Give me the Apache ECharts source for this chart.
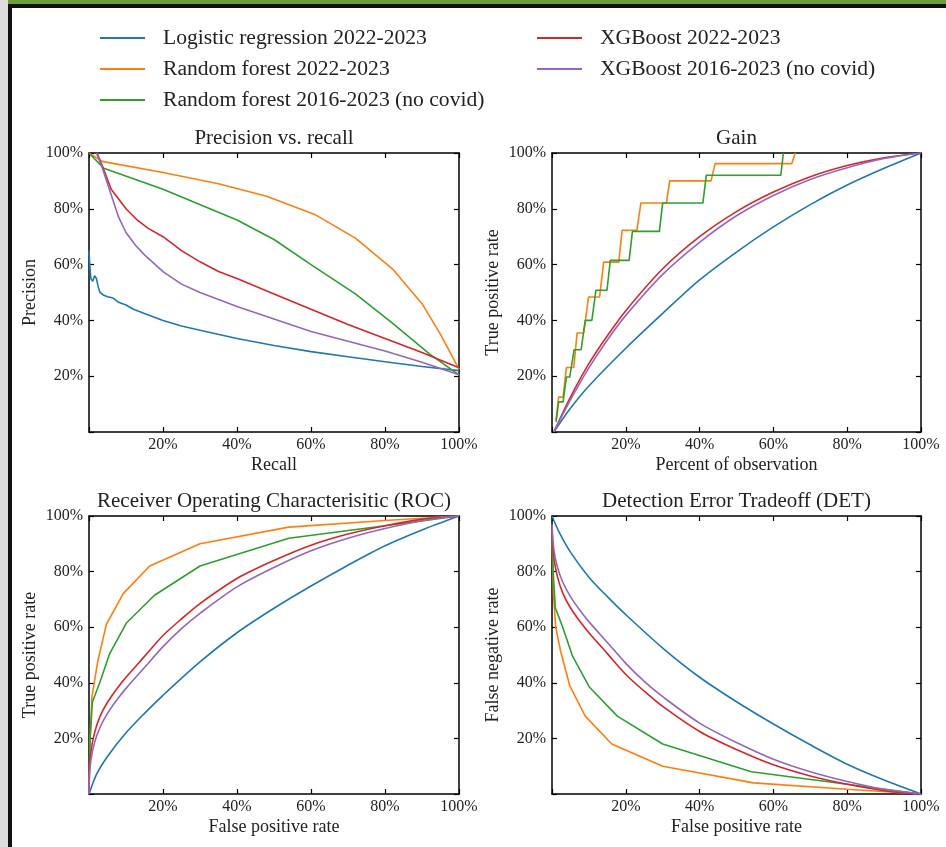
<!DOCTYPE html>
<html>
<head>
<meta charset="utf-8">
<script src="https://cdn.jsdelivr.net/npm/echarts@6/dist/echarts.min.js"></script>
<style>
html,body{margin:0;padding:0;background:#fff;}
#chart{width:946px;height:847px;}
</style>
</head>
<body>
<div id="chart"></div>
<script>
// ---------- names ----------
const seriesNames = [
  'Logistic regression 2022-2023',
  'Random forest 2022-2023',
  'Random forest 2016-2023 (no covid)',
  'XGBoost 2022-2023',
  'XGBoost 2016-2023 (no covid)'
];
const seriesColors = ['#1f77b4', '#ff7f0e', '#2ca02c', '#d62728', '#9467bd'];
const panelTitles = ['Precision vs. recall', 'Gain', 'Receiver Operating Characterisitic (ROC)', 'Detection Error Tradeoff (DET)'];
const xAxisNames = ['Recall', 'Percent of observation', 'False positive rate', 'False positive rate'];
const yAxisNames = ['Precision', 'True positive rate', 'True positive rate', 'False negative rate'];
const tickValues = [0, 20, 40, 60, 80, 100];

// ---------- Precision vs recall ([recall %, precision %]) ----------
const prLogReg = [[0,65],[0.2,60],[0.5,55],[1,54],[1.5,56],[2,55],[2.5,52],[3,50],[4,49],[5,48.5],[6.5,48],[8,46.5],[10,45.5],[12,44],[15,42.5],[20,40],[25,38],[30,36.5],[40,33.5],[50,31],[60,28.8],[70,27],[80,25.2],[90,23.5],[100,22]];
const prRf22 = [[0,100],[3.5,97],[20,93],[35,89],[48,84.5],[61,78],[72,69.5],[82,58.5],[90,46],[95,35],[100,22.5]];
const prRf16 = [[0,100],[4,94.5],[20,87],[40,76],[50,69],[60,60],[72,49.5],[82,39],[92,28],[100,20.5]];
const prXgb22 = [[2.2,100],[4,94],[6,87],[8,83.5],[10,80],[13,76],[16,73],[20,70],[25,65],[30,61],[35,57.5],[40,55],[50,49.5],[60,44],[70,38.5],[80,33.5],[90,28.5],[100,23]];
const prXgb16 = [[2,100],[3.5,95],[5,89],[6.5,83],[8,77],[10,71.5],[12.5,67],[15,63.5],[20,57.5],[25,53],[30,50],[40,45],[50,40.5],[60,36],[70,32.5],[80,29],[90,25],[100,20.5]];

// ---------- Gain ([percent of observation %, TPR %]) ----------
const gainLogReg = [[0.5,0],[5,8.5],[10,16.5],[20,30],[30,42.5],[40,54.5],[50,64.5],[60,73.5],[70,81.5],[80,88.5],[90,94.5],[100,100]];
const gainRf22 = [[1.1,4.2],[1.8,12.5],[3.0,12.5],[3.9,23.1],[5.9,23.1],[6.8,35.5],[8.6,35.5],[9.9,48.4],[12.9,48.4],[14.0,60.9],[18.1,60.9],[19.0,72.3],[23.0,72.3],[24.1,82.1],[31.0,82.1],[31.9,90.0],[43.1,90.0],[44.2,96.2],[65.0,96.2],[65.9,100]];
const gainRf16 = [[1.1,3.6],[1.8,10.8],[3.0,10.8],[3.9,19.7],[4.8,19.7],[6.0,29.5],[7.9,29.5],[9.0,40.0],[10.8,40.0],[11.9,50.8],[14.9,50.8],[15.8,61.5],[20.9,61.5],[21.8,71.9],[29.1,71.9],[30.0,82.1],[40.9,82.1],[41.8,92.0],[62.0,92.0],[62.7,100]];
const gainXgb22 = [[0.5,0],[5,12.5],[10,24.5],[15,34.5],[20,43.5],[30,58.5],[40,70],[50,79],[60,86],[70,91.5],[80,95.5],[90,98.3],[100,100]];
const gainXgb16 = [[0.5,0],[5,11.5],[10,23],[15,33],[20,41.8],[30,56.5],[40,68],[50,77.5],[60,84.8],[70,90.5],[80,94.7],[90,98],[100,100]];

// ---------- ROC ([FPR %, TPR %]) ----------
const rocLogReg = [[0,0],[2,7],[5,13.5],[10,22],[15,29],[20,35.5],[30,47.5],[40,58],[50,66.8],[60,74.8],[70,82.3],[80,89.3],[90,95],[100,100]];
const rocRf22 = [[0,0],[0.3,20],[0.8,35],[2.4,48],[4.7,61],[9.2,72],[16.4,82],[30,90],[54,96],[80,98.4],[100,100]];
const rocRf16 = [[0,0],[0.3,20],[0.9,33],[2.9,40],[5.6,50.5],[10.1,61.5],[17.7,71.5],[30,82],[54,92],[80,96.5],[100,100]];
const rocXgb22 = [[0,0],[0,5],[0.5,15],[1.5,22],[3,28],[5,33],[7.5,37.8],[10,42],[15,49.5],[20,57],[25,63],[30,68.5],[40,77.5],[50,84],[60,89.5],[70,93.5],[80,96.5],[90,98.8],[100,100]];
const rocXgb16 = [[0,0],[0,3],[0.5,12],[1.5,18.5],[3,24],[5,29],[7.5,33.8],[10,38],[15,45.5],[20,53],[25,59.5],[30,65],[40,74.5],[50,81.5],[60,87.5],[70,92],[80,95.5],[90,98.3],[100,100]];

// ---------- DET ([FPR %, FNR %]) ----------
const detLogReg = [[0,100],[2,94],[5,87],[10,78],[15,71],[20,64.5],[30,52.5],[40,42],[50,33.2],[60,25.2],[70,17.7],[80,10.7],[90,5],[100,0]];
const detRf22 = [[0,95],[0.4,72],[1,60],[2.4,51],[4.8,39],[9,28],[16.2,18],[30,10],[54.6,4],[80,1.7],[100,0]];
const detRf16 = [[0,93],[0.3,80],[0.9,67],[2.9,60],[5.6,49.5],[10.1,38.5],[17.7,28],[30,18],[54,8],[80,3.5],[100,0]];
const detXgb22 = [[0,95],[0.5,85],[1.5,78],[3,72],[5,67],[7.5,62.2],[10,58],[15,50.5],[20,43],[25,37],[30,31.5],[40,22.5],[50,16],[60,10.5],[70,6.5],[80,3.5],[90,1.2],[100,0]];
const detXgb16 = [[0,97],[0.5,88],[1.5,81.5],[3,76],[5,71],[7.5,66.2],[10,62],[15,54.5],[20,47],[25,40.5],[30,35],[40,25.5],[50,18.5],[60,12.5],[70,8],[80,4.5],[90,1.7],[100,0]];

const panels = [
  [prLogReg, prRf22, prRf16, prXgb22, prXgb16],
  [gainLogReg, gainRf22, gainRf16, gainXgb22, gainXgb16],
  [rocLogReg, rocRf22, rocRf16, rocXgb22, rocXgb16],
  [detLogReg, detRf22, detRf16, detXgb22, detXgb16]
];
// which curves are drawn as smooth model curves (vs. polyline/step curves)
const smoothCurves = [
  [false, false, false, false, false],
  [true, false, false, true, true],
  [true, false, false, true, true],
  [true, false, false, true, true]
];

// ---------- layout ----------
const FONT = 'Liberation Serif';
const gridBoxes = [
  {left: 89, top: 153, width: 370, height: 279},
  {left: 552, top: 153, width: 369, height: 279},
  {left: 89, top: 516, width: 370, height: 278},
  {left: 552, top: 516, width: 369, height: 278}
];
const pctFmt = v => (v === 0 ? '' : v + '%');
const mkTick = () => ({show: true, inside: true, length: 5, lineStyle: {color: '#000', width: 1.2}});
const mkLine = () => ({show: true, onZero: false, lineStyle: {color: '#000', width: 1.5}});

const grids = [], xAxes = [], yAxes = [], series = [], titles = [];
gridBoxes.forEach((g, i) => {
  grids.push(Object.assign({show: false, containLabel: false}, g));
  const base = () => ({type: 'value', gridIndex: i, min: tickValues[0], max: tickValues[tickValues.length - 1], interval: tickValues[1] - tickValues[0], splitLine: {show: false}, axisLine: mkLine(), axisTick: mkTick()});
  xAxes.push(Object.assign(base(), {
    position: 'bottom',
    axisLabel: {formatter: pctFmt, fontFamily: FONT, fontSize: 16, color: '#222', margin: 5},
    name: xAxisNames[i], nameLocation: 'middle', nameGap: 24,
    nameTextStyle: {fontFamily: FONT, fontSize: 18, color: '#222'}
  }));
  xAxes.push(Object.assign(base(), {position: 'top', axisLabel: {show: false}}));
  yAxes.push(Object.assign(base(), {
    position: 'left',
    axisLabel: {formatter: pctFmt, fontFamily: FONT, fontSize: 16, color: '#222', margin: 6},
    name: yAxisNames[i], nameLocation: 'middle', nameGap: 50,
    nameTextStyle: {fontFamily: FONT, fontSize: 18, color: '#222'}
  }));
  yAxes.push(Object.assign(base(), {position: 'right', axisLabel: {show: false}}));
  titles.push({
    text: panelTitles[i], left: g.left + g.width / 2, textAlign: 'center', top: g.top - 25, padding: 0,
    textStyle: {fontFamily: FONT, fontSize: 21, fontWeight: 'normal', color: '#222'}
  });
  panels[i].forEach((data, k) => {
    series.push({
      name: seriesNames[k], type: 'line', xAxisIndex: 2 * i, yAxisIndex: 2 * i,
      data: data, showSymbol: false, symbol: 'none',
      smooth: smoothCurves[i][k] ? 0.3 : false,
      lineStyle: {width: 1.6, color: seriesColors[k]}, itemStyle: {color: seriesColors[k]},
      z: 3 + k, silent: true, animation: false
    });
  });
});

const legendBase = () => ({
  orient: 'vertical', top: 22, icon: 'rect', itemWidth: 45, itemHeight: 2, itemGap: 9,
  textStyle: {fontFamily: FONT, fontSize: 21.6, color: '#222', padding: [0, 0, 0, 13]},
  selectedMode: false
});

const option = {
  backgroundColor: '#fff',
  animation: false,
  title: titles,
  legend: [
    Object.assign(legendBase(), {left: 95, data: seriesNames.slice(0, 3)}),
    Object.assign(legendBase(), {left: 532, data: seriesNames.slice(3)})
  ],
  grid: grids,
  xAxis: xAxes,
  yAxis: yAxes,
  series: series,
  graphic: [
    {type: 'rect', shape: {x: 0, y: 0, width: 8, height: 847}, style: {fill: '#dcdcdc'}, silent: true},
    {type: 'rect', shape: {x: 8, y: 0, width: 938, height: 4}, style: {fill: '#6f9e36'}, silent: true},
    {type: 'rect', shape: {x: 8, y: 4, width: 4, height: 843}, style: {fill: '#111'}, silent: true},
    {type: 'rect', shape: {x: 8, y: 4, width: 938, height: 4}, style: {fill: '#111'}, silent: true}
  ]
};

const chart = echarts.init(document.getElementById('chart'), null, {renderer: 'canvas'});
chart.setOption(option);
</script>
</body>
</html>
